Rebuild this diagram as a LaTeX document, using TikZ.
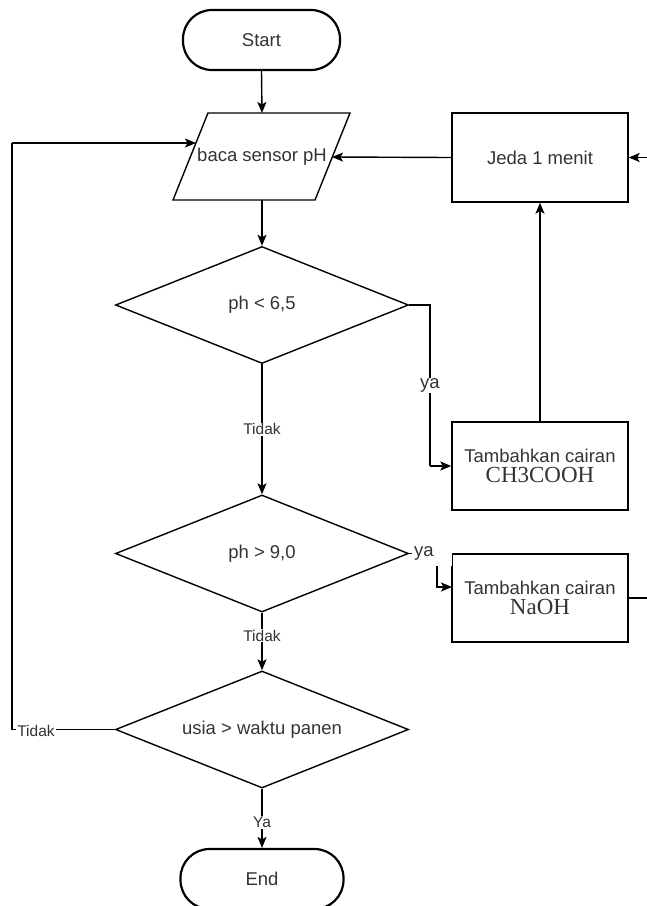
\documentclass[tikz,border=0pt]{standalone}
\usepackage{fontspec}
\setmainfont{Liberation Sans}
\newfontfamily\serifcase{Liberation Serif}
\newcommand\chemtxt{\serifcase\fontsize{23}{26}\selectfont}
\usetikzlibrary{shapes.geometric,arrows.meta}
\definecolor{txtgray}{HTML}{333333}
\begin{document}
\begin{tikzpicture}[x=1pt,y=-1pt,
  line width=1.4pt,
  >={Stealth[length=11pt,width=9pt,inset=2.5pt]},
  txt/.style={text=txtgray, font=\fontsize{18.5}{22}\selectfont},
  term/.style={txt, draw, line width=2.2pt, rounded corners=29pt, minimum height=60pt, inner sep=0pt},
  decision/.style={txt, draw, diamond, aspect=2.5, minimum width=293pt, minimum height=117pt, inner sep=0pt},
  procbox/.style={txt, draw, rectangle, minimum width=176pt, minimum height=88pt, inner sep=0pt, align=center},
  lbl/.style={text=txtgray, fill=white, inner sep=1pt, font=\fontsize{15.5}{18}\selectfont},
  lblya/.style={text=txtgray, fill=white, inner sep=1pt, font=\fontsize{18.5}{22}\selectfont}
]
\useasboundingbox (0,0) rectangle (647,906);
\clip (0,0) rectangle (647,906);

% nodes
\node[term, minimum width=157pt] (start) at (261.5,40) {Start};
\draw (208,113) -- (350,113) -- (315,200) -- (173,200) -- cycle;
\node[txt] (read) at (262,157) {baca sensor pH};
\coordinate (rdn) at (262,113);
\coordinate (rds) at (262,200);
\coordinate (rdw) at (196,143);
\coordinate (rde) at (332,157);

\node[procbox, minimum height=89pt] (jeda) at (540,157.5) {Jeda 1 menit};
\node[decision] (d1) at (262,305) {ph < 6,5};
\node[procbox] (ch) at (540,466) {Tambahkan cairan\\[-2pt]{\chemtxt CH3COOH}};
\node[decision] (d2) at (262,553.5) {ph > 9,0};
\node[procbox] (naoh) at (540,598) {Tambahkan cairan\\[-2pt]{\chemtxt NaOH}};
\node[decision] (d3) at (262,729.5) {usia > waktu panen};
\node[term, minimum width=163pt] (end) at (262,879) {End};

\coordinate (c1a) at (430,305);
\coordinate (c1b) at (430,466);
\coordinate (c2a) at (437,553.5);
\coordinate (c2b) at (437,587);
\coordinate (c2c) at (452,587);
\coordinate (c3a) at (652,598);
\coordinate (c3b) at (652,157.5);
\coordinate (c4a) at (12,729.5);
\coordinate (c4b) at (12,143);

% connectors
\draw[->] (start.south) -- (rdn);
\draw[->] (rds) -- (d1.north);
\draw[->] (jeda.west) -- (rde);
\draw (d1.east) -- (c1a) -- (c1b) node[lblya, pos=0.5] {ya};
\draw[->] (c1b) -- (ch.west);
\draw[->] (ch.north) -- (jeda.south);
\draw[->] (d1.south) -- (d2.north) node[lbl, pos=0.5] {Tidak};
\draw[->] (d2.east) -- (c2a) -- (c2b) -- (c2c);
\node[lblya, minimum width=40pt, minimum height=26pt, text width=36pt, align=left, inner sep=0pt] (ya2) at (432,553) {ya};
\draw (naoh.east) -- (c3a) -- (c3b);
\draw[->] (c3b) -- (jeda.east);
\draw[->] (d2.south) -- (d3.north) node[lbl, pos=0.4] {Tidak};
\draw (d3.west) -- (c4a) -- (c4b);
\draw[->] (c4b) -- (rdw);
\node[lbl] (tidak3) at (36,731) {Tidak};
\draw[->] (d3.south) -- (end.north) node[lbl, pos=0.57] {Ya};
\end{tikzpicture}
\end{document}
